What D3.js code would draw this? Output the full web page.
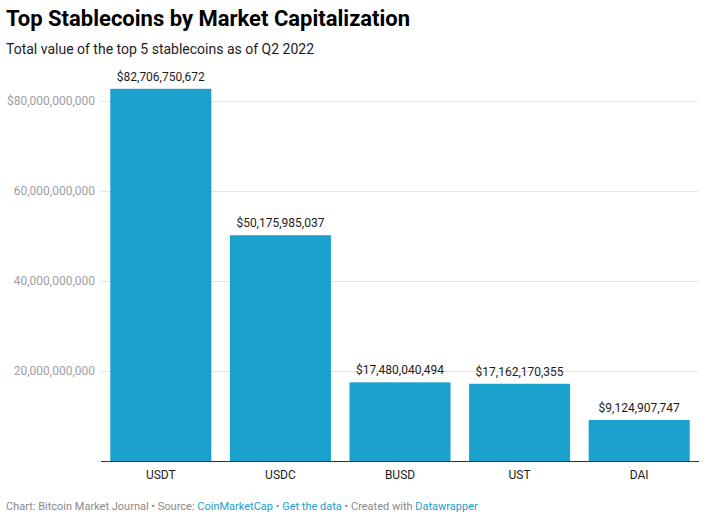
<!DOCTYPE html>
<html><head><meta charset="utf-8">
<script src="https://cdn.jsdelivr.net/npm/d3@7"></script>
<style>
html,body{margin:0;padding:0;background:#fff;}
svg{display:block;font-family:Roboto, "Noto Sans", sans-serif;}
</style></head>
<body>
<svg id="c" width="705" height="517"></svg>
<script>
const categories = ["USDT", "USDC", "BUSD", "UST", "DAI"];
const values = [82706750672, 50175985037, 17480040494, 17162170355, 9124907747];
const tickValues = [20000000000, 40000000000, 60000000000, 80000000000];
const tickLabels = ["20,000,000,000", "40,000,000,000", "60,000,000,000", "$80,000,000,000"];

const svg = d3.select("#c");
const x = d3.scaleBand().domain(categories).range([101, 699]).paddingInner(0.155).paddingOuter(0.0775);
const y = d3.scaleLinear().domain([0, 80000000000]).range([461, 101]);

svg.append("text").attr("x", 6).attr("y", 26).attr("font-size", 22).attr("font-weight", 700)
  .attr("fill", "#000").text("Top Stablecoins by Market Capitalization");
svg.append("text").attr("x", 6).attr("y", 54).attr("font-size", 14).attr("fill", "#1d1d1d")
  .text("Total value of the top 5 stablecoins as of Q2 2022");

// gridlines + y labels
const yAxis = d3.axisLeft(y).tickValues(tickValues).tickSize(0)
  .tickFormat((d, i) => tickLabels[i]);
const gy = svg.append("g").attr("transform", "translate(101,0)").call(yAxis);
gy.select(".domain").remove();
gy.selectAll(".tick line").attr("x2", 597).attr("stroke", "#e5e5e5").attr("stroke-width", 1);
gy.selectAll(".tick text").attr("x", -6).attr("fill", "#a0a0a0").attr("font-size", 12)
  .attr("font-family", "Roboto, sans-serif");

// bars
svg.append("g").selectAll("rect").data(values).join("rect")
  .attr("x", (d, i) => x(categories[i])).attr("width", x.bandwidth())
  .attr("y", d => y(d)).attr("height", d => y(0) - y(d)).attr("fill", "#1aa1cd");

// value labels
svg.append("g").selectAll("text").data(values).join("text")
  .attr("x", (d, i) => x(categories[i]) + x.bandwidth() / 2).attr("y", d => y(d) - 8)
  .attr("text-anchor", "middle").attr("font-size", 12).attr("fill", "#1d1d1d")
  .text(d => "$" + d3.format(",")(d));

// x axis
const xAxis = d3.axisBottom(x).tickSize(0).tickPadding(9);
const gx = svg.append("g").attr("transform", "translate(0,461)").call(xAxis);
gx.select(".domain").attr("d", "M101,0.5H699").attr("stroke", "#333").attr("stroke-width", 1.2);
gx.selectAll(".tick text").attr("fill", "#1d1d1d").attr("font-size", 12)
  .attr("font-family", "Roboto, sans-serif");

// footer
const f = svg.append("text").attr("x", 6).attr("y", 510).attr("font-size", 11).attr("fill", "#8a8a8a");
f.append("tspan").text("Chart: Bitcoin Market Journal \u2022 Source: ");
f.append("tspan").attr("fill", "#1aa1cd").text("CoinMarketCap");
f.append("tspan").text(" \u2022 ");
f.append("tspan").attr("fill", "#1aa1cd").text("Get the data");
f.append("tspan").text(" \u2022 Created with ");
f.append("tspan").attr("fill", "#1aa1cd").text("Datawrapper");
</script>
</body></html>
